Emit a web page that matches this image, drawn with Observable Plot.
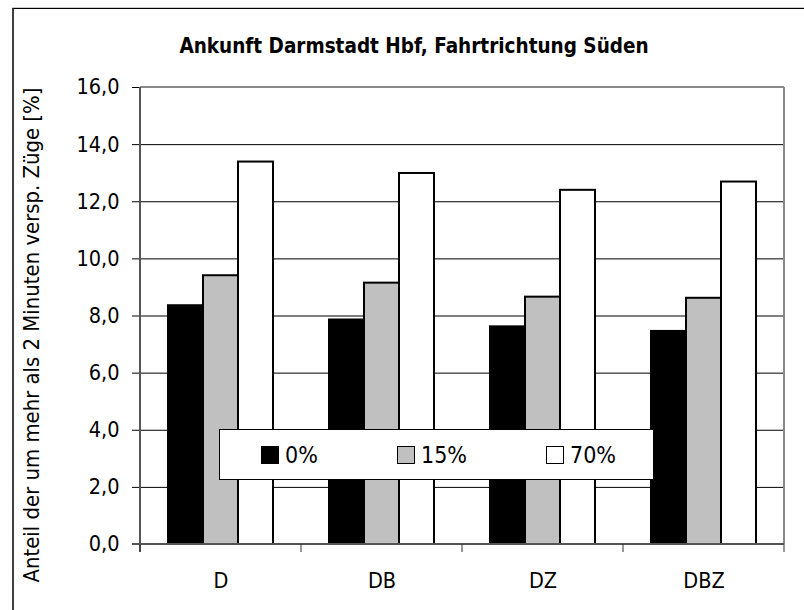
<!DOCTYPE html>
<html>
<head>
<meta charset="utf-8">
<script src="https://cdn.jsdelivr.net/npm/d3@7"></script>
<script src="https://cdn.jsdelivr.net/npm/@observablehq/plot@0.6"></script>
<style>
  html, body { margin: 0; padding: 0; background: #fff; }
  #wrap { position: relative; width: 804px; height: 610px; overflow: hidden; background: #fff;
          font-family: "Liberation Sans Narrow", "Arial Narrow", "DejaVu Sans Condensed", sans-serif; color: #000; }
  #frame { position: absolute; left: 12px; top: 8px; width: 820px; height: 700px;
           border-left: 2px solid #404040; border-top: 1px solid #000; box-shadow: 0 -1px 0 #ccc; }
  #chart { position: absolute; left: 0; top: 0; }
  #title { position: absolute; left: 114px; width: 600px; top: 34px; text-align: center;
           font-weight: bold; font-size: 20.5px; line-height: 24px; }
  #ylabel { position: absolute; left: 32px; top: 335px; width: 600px; margin-left: -300px; margin-top: -14px;
            height: 28px; line-height: 28px; text-align: center; font-size: 21.9px; transform: rotate(-90deg); white-space: nowrap; }
  #legend { position: absolute; left: 219px; top: 429px; width: 433px; height: 49px;
            background: #fff; border: 1px solid #000; font-size: 23px; }
  .item { position: absolute; top: 0; height: 49px; display: flex; align-items: center; }
  .sw { width: 16px; height: 16px; border: 1px solid #000; margin-right: 6px; }
</style>
</head>
<body>
<div id="wrap">
  <div id="frame"></div>
  <div id="chart"></div>
  <div id="title">Ankunft Darmstadt Hbf, Fahrtrichtung Süden</div>
  <div id="ylabel"></div>
  <div id="legend"></div>
</div>
<script>
// ---- data ----
const categories = ["D", "DB", "DZ", "DBZ"];
const seriesNames = ["0%", "15%", "70%"];
const seriesColors = ["#000000", "#c0c0c0", "#ffffff"];
const values0 = [8.36, 7.86, 7.62, 7.46];
const values15 = [9.41, 9.15, 8.66, 8.62];
const values70 = [13.39, 12.99, 12.40, 12.69];
const yTicks = [0, 2, 4, 6, 8, 10, 12, 14, 16];
const yLabel = "Anteil der um mehr als 2 Minuten versp. Züge [%]";

const seriesValues = [values0, values15, values70];
const data = categories.flatMap((c, i) =>
  seriesNames.map((s, j) => ({cat: c, series: s, value: seriesValues[j][i]}))
);

const fmt = d => d3.format(".1f")(d).replace(".", ",");
const font = '"Liberation Sans Narrow", "Arial Narrow", "DejaVu Sans Condensed", sans-serif';

document.getElementById("ylabel").textContent = yLabel;

const plot = Plot.plot({
  width: 804,
  height: 610,
  marginLeft: 139,
  marginRight: 20,
  marginTop: 87,
  marginBottom: 66,
  style: {fontFamily: font, fontSize: "21.5px", color: "#000", background: "transparent", overflow: "visible"},
  fx: {domain: categories, padding: 0, label: null, axis: "bottom", tickSize: 0, tickPadding: 28},
  x: {domain: seriesNames, paddingInner: 0, paddingOuter: 0.74, axis: null},
  y: {domain: [0, 16], ticks: yTicks, tickFormat: fmt, label: null, tickSize: 8, tickPadding: 13},
  color: {domain: seriesNames, range: seriesColors},
  marks: [
    Plot.ruleY(yTicks.filter(t => t > 0 && t < 16), {stroke: "#000", strokeWidth: 1}),
    Plot.barY(data, {fx: "cat", x: "series", y: "value", fill: "series", stroke: "#000", strokeWidth: 2}),
  ]
});
document.getElementById("chart").appendChild(plot);

// plot-area border, axis lines and category boundary ticks from the scales
const svg = d3.select(plot);
const fx = plot.scale("fx");
const y = plot.scale("y");
const left = fx.apply(categories[0]);
const right = fx.apply(categories[categories.length - 1]) + fx.bandwidth;
const y0 = y.apply(0), yTop = y.apply(16);
const g = svg.append("g").attr("fill", "none");
g.append("line").attr("x1", left).attr("x2", right).attr("y1", yTop).attr("y2", yTop).attr("stroke", "#888").attr("stroke-width", 2);
g.append("line").attr("x1", right).attr("x2", right).attr("y1", yTop).attr("y2", y0).attr("stroke", "#888").attr("stroke-width", 2);
g.append("line").attr("x1", left).attr("x2", left).attr("y1", yTop).attr("y2", y0 + 8).attr("stroke", "#555").attr("stroke-width", 2);
g.append("line").attr("x1", left - 8).attr("x2", right).attr("y1", y0).attr("y2", y0).attr("stroke", "#555").attr("stroke-width", 2);
const bounds = categories.map(c => fx.apply(c)).concat([right]);
bounds.forEach(bx => {
  g.append("line").attr("x1", bx).attr("x2", bx).attr("y1", y0).attr("y2", y0 + 8).attr("stroke", "#333").attr("stroke-width", 1);
});
svg.selectAll("[aria-label='y-axis tick']").attr("stroke", "#555");

// legend
const legend = document.getElementById("legend");
const legendLeft = [41, 177, 326];
seriesNames.forEach((s, i) => {
  const it = document.createElement("div");
  it.className = "item";
  it.style.left = legendLeft[i] + "px";
  const sw = document.createElement("span");
  sw.className = "sw";
  sw.style.background = seriesColors[i];
  it.appendChild(sw);
  it.appendChild(document.createTextNode(s));
  legend.appendChild(it);
});
</script>
</body>
</html>
